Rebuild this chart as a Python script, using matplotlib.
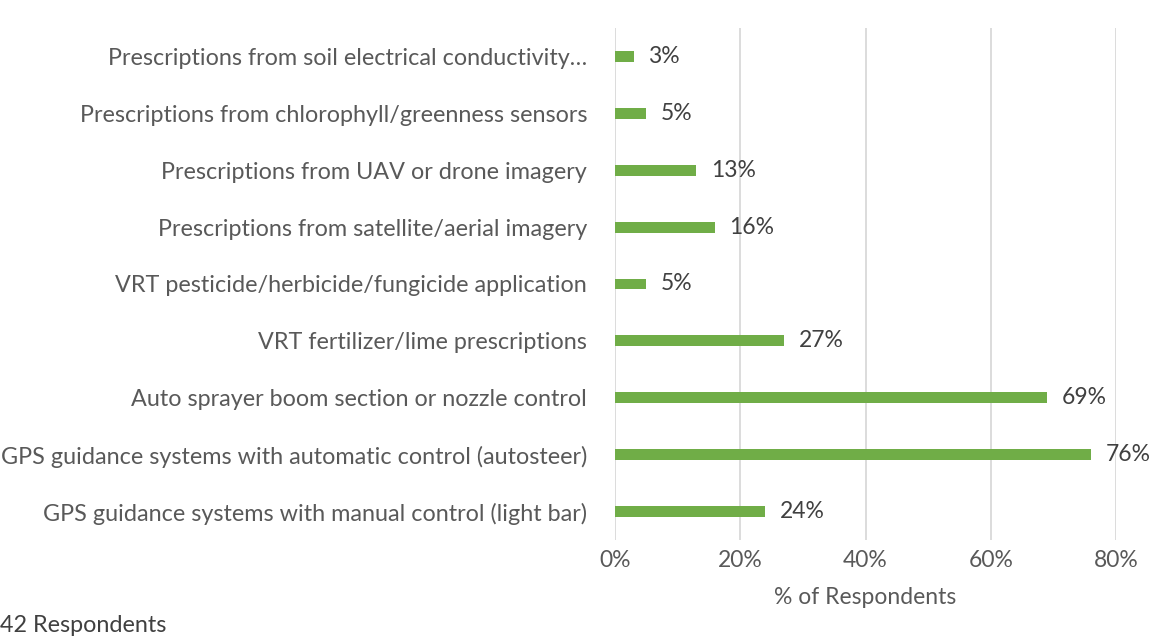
import matplotlib
matplotlib.use("Agg")
import matplotlib.pyplot as plt
from matplotlib.ticker import FuncFormatter

plt.rcParams['font.family'] = ['Lato', 'DejaVu Sans']

categories = [
    "GPS guidance systems with manual control (light bar)",
    "GPS guidance systems with automatic control (autosteer)",
    "Auto sprayer boom section or nozzle control",
    "VRT fertilizer/lime prescriptions",
    "VRT pesticide/herbicide/fungicide application",
    "Prescriptions from satellite/aerial imagery",
    "Prescriptions from UAV or drone imagery",
    "Prescriptions from chlorophyll/greenness sensors",
    "Prescriptions from soil electrical conductivity\u2026",
]
values = [0.24, 0.76, 0.69, 0.27, 0.05, 0.16, 0.13, 0.05, 0.03]
xticks = [0, 0.2, 0.4, 0.6, 0.8]

fs = 16.5

fig = plt.figure(figsize=(11.63, 6.37), dpi=100)
ax = fig.add_axes([615/1163, 1 - 540/637, (1116 - 615)/1163, (540 - 28)/637])

ypos = range(len(categories))
ax.barh(ypos, values, height=0.19, color='#70AD47', zorder=3)
for y, v in zip(ypos, values):
    ax.text(v + 0.023, y, f"{round(v*100)}%", va='center', ha='left',
            fontsize=fs, color='#404040')

ax.set_xlim(0, 0.8)
ax.set_ylim(-0.5, len(categories) - 0.5)
ax.set_xticks(xticks)
ax.xaxis.set_major_formatter(FuncFormatter(lambda x, p: f"{x*100:.0f}%"))
ax.set_yticks(list(ypos))
ax.set_yticklabels(categories)
ax.tick_params(axis='both', length=0, labelsize=fs, labelcolor='#595959')
ax.tick_params(axis='y', labelsize=16.8, pad=20)
ax.tick_params(axis='x', pad=7)
ax.grid(axis='x', color='#D9D9D9', linewidth=1.3, zorder=0)
for s in ax.spines.values():
    s.set_visible(False)
ax.set_xlabel("% of Respondents", fontsize=fs, color='#595959', labelpad=12)

fig.text(0.0, 1 - 625/637, "42 Respondents", fontsize=16.8, color='#404040',
         ha='left', va='center')

fig.savefig("out.png", dpi=100)
